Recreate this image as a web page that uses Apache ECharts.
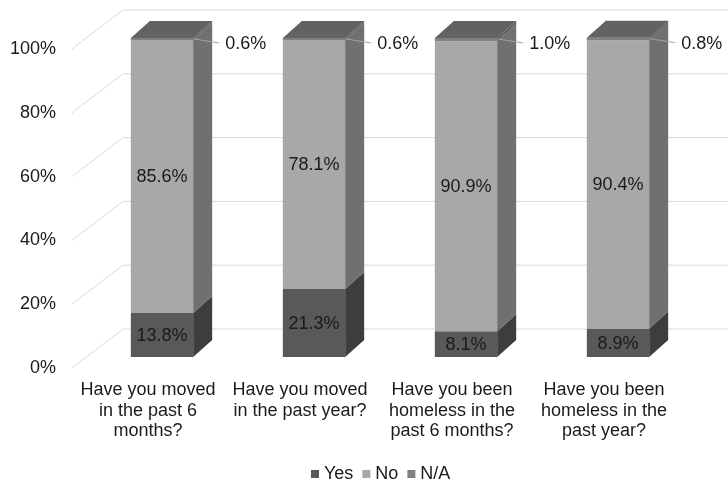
<!DOCTYPE html>
<html><head><meta charset="utf-8">
<script src="https://cdn.jsdelivr.net/npm/echarts@6/dist/echarts.min.js"></script>
<style>html,body{margin:0;padding:0;background:#fff}#c{width:728px;height:483px}</style>
</head><body><div id="c"></div>
<script>
const categories = ['Have you moved\nin the past 6\nmonths?', 'Have you moved\nin the past year?', 'Have you been\nhomeless in the\npast 6 months?', 'Have you been\nhomeless in the\npast year?'];
const seriesNames = ['Yes', 'No', 'N/A'];
const yesValues = [13.8, 21.3, 8.1, 8.9];
const noValues = [85.6, 78.1, 90.9, 90.4];
const naValues = [0.6, 0.6, 1.0, 0.8];
const yTicks = [0, 20, 40, 60, 80, 100];

const FAMILY = '"Liberation Sans", Arial, sans-serif';
const FONT = '18px ' + FAMILY;
const TXT = '#1a1a1a';
const DX = 19, DY = -17;          // bar depth
const FX = -14, FY = 11;          // front plane offset from bar plane
const BX = 37, BY = -28;          // back wall offset from bar plane

function txt(text, x, y, align) {
  return {type: 'text', silent: true, style: {text: text, x: x, y: y, font: FONT, fill: TXT,
    textAlign: align, textVerticalAlign: 'middle', align: align, verticalAlign: 'middle'}};
}

function renderWall(params, api) {
  const cs = params.coordSys;
  const y = api.coord([0, api.value(1)])[1];
  return {type: 'polyline', silent: true,
    shape: {points: [[cs.x + FX, y + FY], [cs.x + BX, y + BY], [cs.x + cs.width + BX + 10, y + BY]]},
    style: {stroke: '#d9d9d9', lineWidth: 1, fill: null}};
}

function makeBar(front, side, top, labelMode) {
  return function (params, api) {
    const i = api.value(0), b = api.value(1), t = api.value(2), v = api.value(3);
    const pb = api.coord([i, b]), pt = api.coord([i, t]);
    const w = api.size([1, 0])[0] * 0.41;
    const x0 = pb[0] - w / 2, x1 = pb[0] + w / 2, y0 = pb[1], y1 = pt[1];
    const ch = [
      {type: 'rect', shape: {x: x0, y: y1, width: w, height: y0 - y1}, style: {fill: front}},
      {type: 'polygon', shape: {points: [[x1, y1], [x1 + DX, y1 + DY], [x1 + DX, y0 + DY], [x1, y0]]}, style: {fill: side}}
    ];
    if (top) ch.push({type: 'polygon', shape: {points: [[x0, y1], [x0 + DX, y1 + DY], [x1 + DX, y1 + DY], [x1, y1]]}, style: {fill: top}});
    const label = v.toFixed(1) + '%';
    if (labelMode === 'inside') {
      ch.push(txt(label, pb[0], (y0 + y1) / 2 + 1, 'center'));
    } else {
      ch.push({type: 'polyline', silent: true, shape: {points: [[x1 + 1, y1 + 1], [x1 + 26, y1 + 5]]}, style: {stroke: '#a6a6a6', lineWidth: 1, fill: null}});
      ch.push(txt(label, x1 + 32, y1 + 6, 'left'));
    }
    return {type: 'group', children: ch};
  };
}

const yesData = categories.map((c, i) => [i, 0, yesValues[i], yesValues[i]]);
const noData = categories.map((c, i) => [i, yesValues[i], yesValues[i] + noValues[i], noValues[i]]);
const naData = categories.map((c, i) => [i, yesValues[i] + noValues[i], yesValues[i] + noValues[i] + naValues[i], naValues[i]]);

const chart = echarts.init(document.getElementById('c'), null, {renderer: 'canvas'});
chart.setOption({
  animation: false,
  backgroundColor: '#fff',
  textStyle: {fontFamily: FAMILY},
  legend: {
    data: seriesNames, left: 306, top: 460, icon: 'rect', itemWidth: 8, itemHeight: 8, itemGap: 9,
    textStyle: {fontSize: 18, color: TXT, fontFamily: FAMILY}
  },
  grid: [
    {left: 86, width: 608, top: 38, height: 319},
    {left: 72, width: 608, top: 49, height: 319}
  ],
  xAxis: [
    {gridIndex: 0, type: 'category', data: categories, show: false},
    {gridIndex: 1, type: 'category', data: categories, axisLine: {show: false}, axisTick: {show: false},
      axisLabel: {margin: 12, fontSize: 18, lineHeight: 20.5, color: TXT, interval: 0}}
  ],
  yAxis: [
    {gridIndex: 0, type: 'value', min: 0, max: 100, interval: 20, show: false},
    {gridIndex: 1, type: 'value', min: 0, max: 100, interval: 20, splitLine: {show: false},
      axisLine: {show: false}, axisTick: {show: false},
      axisLabel: {margin: 16, fontSize: 18, color: TXT, formatter: '{value}%'}}
  ],
  series: [
    {type: 'custom', name: 'walls', xAxisIndex: 0, yAxisIndex: 0, clip: false, z: 1, silent: true,
      renderItem: renderWall, data: yTicks.map(v => [0, v])},
    {type: 'custom', name: 'Yes', xAxisIndex: 0, yAxisIndex: 0, clip: false, z: 2,
      itemStyle: {color: '#595959'}, renderItem: makeBar('#595959', '#3d3d3d', null, 'inside'), data: yesData},
    {type: 'custom', name: 'No', xAxisIndex: 0, yAxisIndex: 0, clip: false, z: 2,
      itemStyle: {color: '#a8a8a8'}, renderItem: makeBar('#a8a8a8', '#707070', null, 'inside'), data: noData},
    {type: 'custom', name: 'N/A', xAxisIndex: 0, yAxisIndex: 0, clip: false, z: 2,
      itemStyle: {color: '#808080'}, renderItem: makeBar('#808080', '#5e5e5e', '#626262', 'outside'), data: naData}
  ]
});
</script>
</body></html>
